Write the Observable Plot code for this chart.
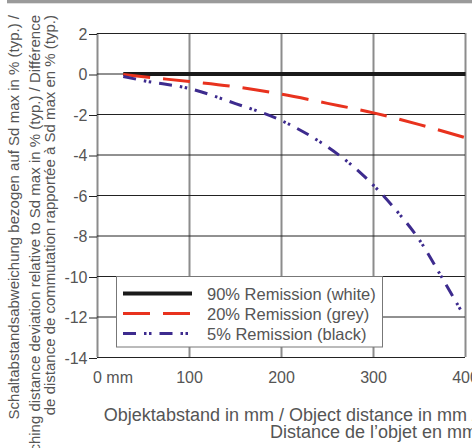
<!DOCTYPE html>
<html><head><meta charset="utf-8">
<script src="https://cdn.jsdelivr.net/npm/d3@7"></script>
<script src="https://cdn.jsdelivr.net/npm/@observablehq/plot@0.6"></script>
<style>body{margin:0;background:#fff;overflow:hidden} svg{display:block}</style>
</head><body><div id="chart"></div>
<script>
const xTicks = [0, 100, 200, 300, 400];
const xTickLabels = ["0 mm", "100", "200", "300", "400"];
const yTicks = [2, 0, -2, -4, -6, -8, -10, -12, -14];

const distWhite = [28, 400];
const white90 = [0, 0];
const distGrey = [28, 50, 100, 150, 200, 250, 300, 350, 400];
const grey20 = [-0.03, -0.14, -0.37, -0.63, -1.0, -1.45, -1.92, -2.5, -3.15];
const distBlack = [28, 50, 100, 150, 200, 250, 275, 300, 325, 350, 375, 396];
const black5 = [-0.12, -0.33, -0.72, -1.46, -2.3, -3.6, -4.45, -5.5, -6.75, -8.2, -10.1, -11.75];

const seriesNames = ["90% Remission (white)", "20% Remission (grey)", "5% Remission (black)"];
const seriesColors = ["#1a1a1a", "#e8321e", "#3d2b8e"];
const seriesWidths = [4, 3, 3];
const seriesDash = [null, "27,13", "13,8,2.5,2.5,2.5,8"];

const yTitle = [
  "Schaltabstandsabweichung bezogen auf Sd max in % (typ.) /",
  "Switching distance deviation relative to Sd max in % (typ.) / Différence",
  "de distance de commutation rapportée à Sd max en % (typ.)"
];
const xTitle = [
  "Objektabstand in mm / Object distance in mm /",
  "Distance de l\u2019objet en mm"
];

const toRows = (xs, ys) => xs.map((d, i) => ({d, v: ys[i]}));
const series = [toRows(distWhite, white90), toRows(distGrey, grey20), toRows(distBlack, black5)];
const xLabelRows = xTicks.map((t, i) => ({t, label: xTickLabels[i]}));

const font = "'Liberation Sans', Arial, sans-serif";

const plot = Plot.plot({
  width: 472, height: 448,
  marginLeft: 97, marginRight: 7, marginTop: 33, marginBottom: 91,
  style: {fontFamily: font, fontSize: "16px", color: "#555", background: "#fff"},
  x: {domain: [0, 400], axis: null},
  y: {domain: [-14, 2], axis: null},
  marks: [
    Plot.ruleX(xTicks, {y1: -14, y2: 2, stroke: "#8c8c8c", strokeWidth: 2}),
    Plot.ruleY(yTicks, {x1: 0, x2: 400, stroke: "#222", strokeWidth: 1}),
    Plot.axisY(yTicks, {tickSize: 8, tickPadding: 2, stroke: "#222", fill: "#555", tickFormat: d => String(d), label: null, dy: 1}),
    Plot.text(xLabelRows.filter(r => r.t === 0), {x: "t", y: -14, text: "label", textAnchor: "start", dx: -4.5, dy: 20, fill: "#555"}),
    Plot.text(xLabelRows.filter(r => r.t !== 0), {x: "t", y: -14, text: "label", textAnchor: "middle", dy: 20, fill: "#555"}),
    ...series.map((rows, i) => Plot.line(rows, {
      x: "d", y: "v", curve: "monotone-x",
      stroke: seriesColors[i], strokeWidth: seriesWidths[i],
      strokeDasharray: seriesDash[i] || undefined, strokeLinecap: "butt"
    }))
  ]
});
document.getElementById("chart").append(plot);

const svg = d3.select(plot);
// top grey bar
svg.append("rect").attr("x", 7).attr("y", 0).attr("width", 465).attr("height", 3.3).attr("fill", "#9a9a9a");

// legend
const lg = svg.append("g").attr("text-anchor", "start");
lg.append("rect").attr("x", 116.5).attr("y", 276.5).attr("width", 266).attr("height", 70.5)
  .attr("fill", "#fff").attr("stroke", "#777").attr("stroke-width", 1);
const rowY = [293.5, 313.5, 333.5];
seriesNames.forEach((name, i) => {
  lg.append("line").attr("x1", 123).attr("x2", 192).attr("y1", rowY[i]).attr("y2", rowY[i])
    .attr("stroke", seriesColors[i]).attr("stroke-width", seriesWidths[i])
    .attr("stroke-dasharray", seriesDash[i]);
  lg.append("text").attr("x", 207).attr("y", rowY[i] + 6.5).attr("fill", "#555")
    .attr("text-anchor", "start")
    .attr("font-family", font).attr("font-size", 16.5).text(name);
});

// y title (rotated)
const yBase = [19, 39.5, 55];
yTitle.forEach((t, i) => {
  svg.append("text").attr("transform", `translate(${yBase[i]},15) rotate(-90)`)
    .attr("text-anchor", "end").attr("fill", "#555").attr("font-family", font)
    .attr("font-size", 15).text(t);
});
// x title
const xBase = [420.5, 438];
xTitle.forEach((t, i) => {
  svg.append("text").attr("x", 477).attr("y", xBase[i]).attr("text-anchor", "end")
    .attr("fill", "#555").attr("font-family", font).attr("font-size", 18).text(t);
});
</script>
</body></html>
